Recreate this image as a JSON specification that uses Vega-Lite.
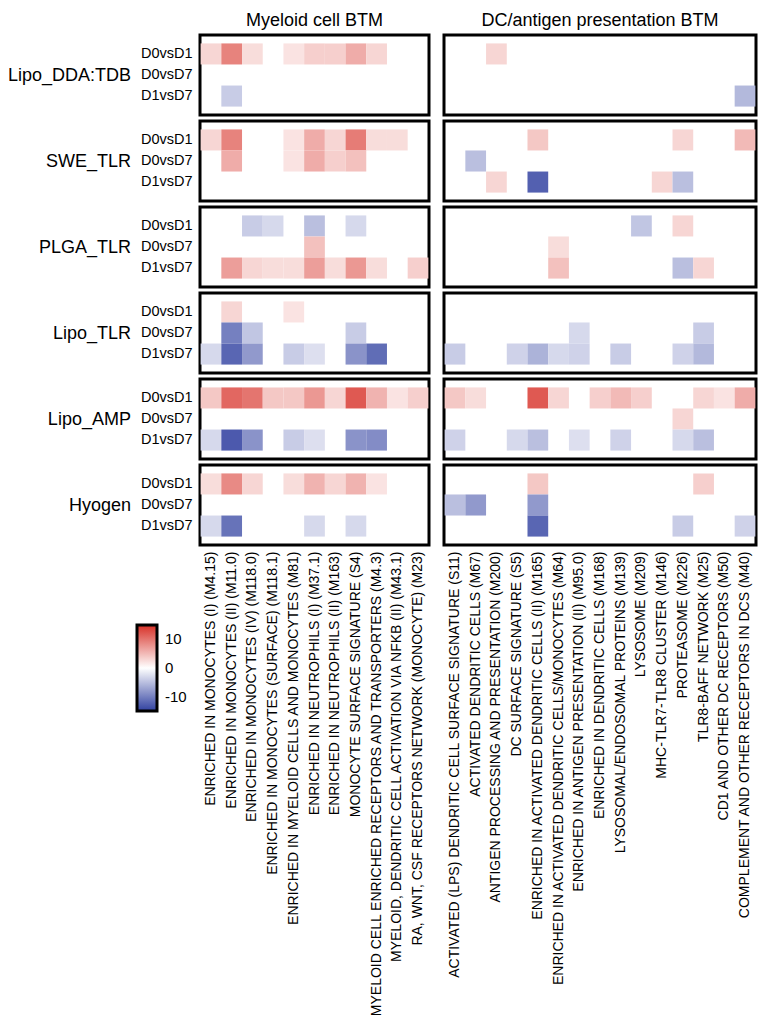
{
  "$schema": "https://vega.github.io/schema/vega-lite/v6.json",
  "background": "white",
  "padding": {"left": 5, "top": 10, "right": 5, "bottom": 5},
  "config": {
    "font": "Liberation Sans",
    "view": {"stroke": "black", "strokeWidth": 3},
    "title": {"font": "Liberation Sans", "fontSize": 18, "fontWeight": "normal", "color": "black", "anchor": "middle", "frame": "group", "offset": 5},
    "axis": {"ticks": false, "domain": false, "grid": false, "labelColor": "black", "labelFont": "Liberation Sans", "titleFont": "Liberation Sans", "titleColor": "black", "titleFontWeight": "normal", "labelLimit": 600},
    "axisX": {"labelAngle": -90, "labelFontSize": 14, "labelPadding": 6},
    "axisY": {"labelFontSize": 14.5, "labelPadding": 8, "titleAngle": 0, "titleAlign": "right", "titleBaseline": "middle", "titleFontSize": 18, "titlePadding": 10, "titleAnchor": "middle"},
    "scale": {"rectBandPaddingInner": 0, "bandPaddingInner": 0}
  },
  "datasets": {
    "myeloid": [
      {"g": "Lipo_DDA:TDB", "c": "D0vsD1", "m": "ENRICHED IN MONOCYTES (I) (M4.15)", "v": 3},
      {"g": "Lipo_DDA:TDB", "c": "D0vsD1", "m": "ENRICHED IN MONOCYTES (II) (M11.0)", "v": 9},
      {"g": "Lipo_DDA:TDB", "c": "D0vsD1", "m": "ENRICHED IN MONOCYTES (IV) (M118.0)", "v": 2.5},
      {"g": "Lipo_DDA:TDB", "c": "D0vsD1", "m": "ENRICHED IN MYELOID CELLS AND MONOCYTES (M81)", "v": 2},
      {"g": "Lipo_DDA:TDB", "c": "D0vsD1", "m": "ENRICHED IN NEUTROPHILS (I) (M37.1)", "v": 3.5},
      {"g": "Lipo_DDA:TDB", "c": "D0vsD1", "m": "ENRICHED IN NEUTROPHILS (II) (M163)", "v": 3.5},
      {"g": "Lipo_DDA:TDB", "c": "D0vsD1", "m": "MONOCYTE SURFACE SIGNATURE (S4)", "v": 6},
      {"g": "Lipo_DDA:TDB", "c": "D0vsD1", "m": "MYELOID CELL ENRICHED RECEPTORS AND TRANSPORTERS (M4.3)", "v": 3},
      {"g": "Lipo_DDA:TDB", "c": "D1vsD7", "m": "ENRICHED IN MONOCYTES (II) (M11.0)", "v": -4},
      {"g": "SWE_TLR", "c": "D0vsD1", "m": "ENRICHED IN MONOCYTES (I) (M4.15)", "v": 3},
      {"g": "SWE_TLR", "c": "D0vsD1", "m": "ENRICHED IN MONOCYTES (II) (M11.0)", "v": 9},
      {"g": "SWE_TLR", "c": "D0vsD1", "m": "ENRICHED IN MYELOID CELLS AND MONOCYTES (M81)", "v": 2},
      {"g": "SWE_TLR", "c": "D0vsD1", "m": "ENRICHED IN NEUTROPHILS (I) (M37.1)", "v": 6},
      {"g": "SWE_TLR", "c": "D0vsD1", "m": "ENRICHED IN NEUTROPHILS (II) (M163)", "v": 3},
      {"g": "SWE_TLR", "c": "D0vsD1", "m": "MONOCYTE SURFACE SIGNATURE (S4)", "v": 9.5},
      {"g": "SWE_TLR", "c": "D0vsD1", "m": "MYELOID CELL ENRICHED RECEPTORS AND TRANSPORTERS (M4.3)", "v": 2.5},
      {"g": "SWE_TLR", "c": "D0vsD1", "m": "MYELOID, DENDRITIC CELL ACTIVATION VIA NFKB (II) (M43.1)", "v": 2.5},
      {"g": "SWE_TLR", "c": "D0vsD7", "m": "ENRICHED IN MONOCYTES (II) (M11.0)", "v": 6},
      {"g": "SWE_TLR", "c": "D0vsD7", "m": "ENRICHED IN MYELOID CELLS AND MONOCYTES (M81)", "v": 2},
      {"g": "SWE_TLR", "c": "D0vsD7", "m": "ENRICHED IN NEUTROPHILS (I) (M37.1)", "v": 6},
      {"g": "SWE_TLR", "c": "D0vsD7", "m": "ENRICHED IN NEUTROPHILS (II) (M163)", "v": 3.5},
      {"g": "SWE_TLR", "c": "D0vsD7", "m": "MONOCYTE SURFACE SIGNATURE (S4)", "v": 4.5},
      {"g": "PLGA_TLR", "c": "D0vsD1", "m": "ENRICHED IN MONOCYTES (IV) (M118.0)", "v": -4},
      {"g": "PLGA_TLR", "c": "D0vsD1", "m": "ENRICHED IN MONOCYTES (SURFACE) (M118.1)", "v": -3},
      {"g": "PLGA_TLR", "c": "D0vsD1", "m": "ENRICHED IN NEUTROPHILS (I) (M37.1)", "v": -5},
      {"g": "PLGA_TLR", "c": "D0vsD1", "m": "MONOCYTE SURFACE SIGNATURE (S4)", "v": -3},
      {"g": "PLGA_TLR", "c": "D0vsD7", "m": "ENRICHED IN NEUTROPHILS (I) (M37.1)", "v": 4.5},
      {"g": "PLGA_TLR", "c": "D1vsD7", "m": "ENRICHED IN MONOCYTES (II) (M11.0)", "v": 7},
      {"g": "PLGA_TLR", "c": "D1vsD7", "m": "ENRICHED IN MONOCYTES (IV) (M118.0)", "v": 3},
      {"g": "PLGA_TLR", "c": "D1vsD7", "m": "ENRICHED IN MONOCYTES (SURFACE) (M118.1)", "v": 2.5},
      {"g": "PLGA_TLR", "c": "D1vsD7", "m": "ENRICHED IN MYELOID CELLS AND MONOCYTES (M81)", "v": 2.5},
      {"g": "PLGA_TLR", "c": "D1vsD7", "m": "ENRICHED IN NEUTROPHILS (I) (M37.1)", "v": 7},
      {"g": "PLGA_TLR", "c": "D1vsD7", "m": "ENRICHED IN NEUTROPHILS (II) (M163)", "v": 2.5},
      {"g": "PLGA_TLR", "c": "D1vsD7", "m": "MONOCYTE SURFACE SIGNATURE (S4)", "v": 7.5},
      {"g": "PLGA_TLR", "c": "D1vsD7", "m": "MYELOID CELL ENRICHED RECEPTORS AND TRANSPORTERS (M4.3)", "v": 2.5},
      {"g": "PLGA_TLR", "c": "D1vsD7", "m": "RA, WNT, CSF RECEPTORS NETWORK (MONOCYTE) (M23)", "v": 3.5},
      {"g": "Lipo_TLR", "c": "D0vsD1", "m": "ENRICHED IN MONOCYTES (II) (M11.0)", "v": 3},
      {"g": "Lipo_TLR", "c": "D0vsD1", "m": "ENRICHED IN MYELOID CELLS AND MONOCYTES (M81)", "v": 2},
      {"g": "Lipo_TLR", "c": "D0vsD7", "m": "ENRICHED IN MONOCYTES (II) (M11.0)", "v": -10},
      {"g": "Lipo_TLR", "c": "D0vsD7", "m": "ENRICHED IN MONOCYTES (IV) (M118.0)", "v": -4.5},
      {"g": "Lipo_TLR", "c": "D0vsD7", "m": "MONOCYTE SURFACE SIGNATURE (S4)", "v": -4},
      {"g": "Lipo_TLR", "c": "D1vsD7", "m": "ENRICHED IN MONOCYTES (I) (M4.15)", "v": -3},
      {"g": "Lipo_TLR", "c": "D1vsD7", "m": "ENRICHED IN MONOCYTES (II) (M11.0)", "v": -12},
      {"g": "Lipo_TLR", "c": "D1vsD7", "m": "ENRICHED IN MONOCYTES (IV) (M118.0)", "v": -8},
      {"g": "Lipo_TLR", "c": "D1vsD7", "m": "ENRICHED IN MYELOID CELLS AND MONOCYTES (M81)", "v": -4},
      {"g": "Lipo_TLR", "c": "D1vsD7", "m": "ENRICHED IN NEUTROPHILS (I) (M37.1)", "v": -2.5},
      {"g": "Lipo_TLR", "c": "D1vsD7", "m": "MONOCYTE SURFACE SIGNATURE (S4)", "v": -8.5},
      {"g": "Lipo_TLR", "c": "D1vsD7", "m": "MYELOID CELL ENRICHED RECEPTORS AND TRANSPORTERS (M4.3)", "v": -11.5},
      {"g": "Lipo_AMP", "c": "D0vsD1", "m": "ENRICHED IN MONOCYTES (I) (M4.15)", "v": 4},
      {"g": "Lipo_AMP", "c": "D0vsD1", "m": "ENRICHED IN MONOCYTES (II) (M11.0)", "v": 11},
      {"g": "Lipo_AMP", "c": "D0vsD1", "m": "ENRICHED IN MONOCYTES (IV) (M118.0)", "v": 10},
      {"g": "Lipo_AMP", "c": "D0vsD1", "m": "ENRICHED IN MONOCYTES (SURFACE) (M118.1)", "v": 4},
      {"g": "Lipo_AMP", "c": "D0vsD1", "m": "ENRICHED IN MYELOID CELLS AND MONOCYTES (M81)", "v": 4},
      {"g": "Lipo_AMP", "c": "D0vsD1", "m": "ENRICHED IN NEUTROPHILS (I) (M37.1)", "v": 7.5},
      {"g": "Lipo_AMP", "c": "D0vsD1", "m": "ENRICHED IN NEUTROPHILS (II) (M163)", "v": 3},
      {"g": "Lipo_AMP", "c": "D0vsD1", "m": "MONOCYTE SURFACE SIGNATURE (S4)", "v": 12},
      {"g": "Lipo_AMP", "c": "D0vsD1", "m": "MYELOID CELL ENRICHED RECEPTORS AND TRANSPORTERS (M4.3)", "v": 5.5},
      {"g": "Lipo_AMP", "c": "D0vsD1", "m": "MYELOID, DENDRITIC CELL ACTIVATION VIA NFKB (II) (M43.1)", "v": 2},
      {"g": "Lipo_AMP", "c": "D0vsD1", "m": "RA, WNT, CSF RECEPTORS NETWORK (MONOCYTE) (M23)", "v": 3.5},
      {"g": "Lipo_AMP", "c": "D1vsD7", "m": "ENRICHED IN MONOCYTES (I) (M4.15)", "v": -3},
      {"g": "Lipo_AMP", "c": "D1vsD7", "m": "ENRICHED IN MONOCYTES (II) (M11.0)", "v": -13},
      {"g": "Lipo_AMP", "c": "D1vsD7", "m": "ENRICHED IN MONOCYTES (IV) (M118.0)", "v": -8.5},
      {"g": "Lipo_AMP", "c": "D1vsD7", "m": "ENRICHED IN MYELOID CELLS AND MONOCYTES (M81)", "v": -4},
      {"g": "Lipo_AMP", "c": "D1vsD7", "m": "ENRICHED IN NEUTROPHILS (I) (M37.1)", "v": -2.5},
      {"g": "Lipo_AMP", "c": "D1vsD7", "m": "MONOCYTE SURFACE SIGNATURE (S4)", "v": -8.5},
      {"g": "Lipo_AMP", "c": "D1vsD7", "m": "MYELOID CELL ENRICHED RECEPTORS AND TRANSPORTERS (M4.3)", "v": -9},
      {"g": "Hyogen", "c": "D0vsD1", "m": "ENRICHED IN MONOCYTES (I) (M4.15)", "v": 2.5},
      {"g": "Hyogen", "c": "D0vsD1", "m": "ENRICHED IN MONOCYTES (II) (M11.0)", "v": 8.5},
      {"g": "Hyogen", "c": "D0vsD1", "m": "ENRICHED IN MONOCYTES (IV) (M118.0)", "v": 3},
      {"g": "Hyogen", "c": "D0vsD1", "m": "ENRICHED IN MYELOID CELLS AND MONOCYTES (M81)", "v": 2.5},
      {"g": "Hyogen", "c": "D0vsD1", "m": "ENRICHED IN NEUTROPHILS (I) (M37.1)", "v": 5.5},
      {"g": "Hyogen", "c": "D0vsD1", "m": "ENRICHED IN NEUTROPHILS (II) (M163)", "v": 3},
      {"g": "Hyogen", "c": "D0vsD1", "m": "MONOCYTE SURFACE SIGNATURE (S4)", "v": 5.5},
      {"g": "Hyogen", "c": "D0vsD1", "m": "MYELOID CELL ENRICHED RECEPTORS AND TRANSPORTERS (M4.3)", "v": 2},
      {"g": "Hyogen", "c": "D1vsD7", "m": "ENRICHED IN MONOCYTES (I) (M4.15)", "v": -3},
      {"g": "Hyogen", "c": "D1vsD7", "m": "ENRICHED IN MONOCYTES (II) (M11.0)", "v": -11},
      {"g": "Hyogen", "c": "D1vsD7", "m": "ENRICHED IN NEUTROPHILS (I) (M37.1)", "v": -3},
      {"g": "Hyogen", "c": "D1vsD7", "m": "MONOCYTE SURFACE SIGNATURE (S4)", "v": -3}
    ],
    "dc": [
      {"g": "Lipo_DDA:TDB", "c": "D0vsD1", "m": "ANTIGEN PROCESSING AND PRESENTATION (M200)", "v": 3},
      {"g": "Lipo_DDA:TDB", "c": "D1vsD7", "m": "COMPLEMENT AND OTHER RECEPTORS IN DCS (M40)", "v": -5.5},
      {"g": "SWE_TLR", "c": "D0vsD1", "m": "ENRICHED IN ACTIVATED DENDRITIC CELLS (II) (M165)", "v": 4},
      {"g": "SWE_TLR", "c": "D0vsD1", "m": "PROTEASOME (M226)", "v": 3},
      {"g": "SWE_TLR", "c": "D0vsD1", "m": "COMPLEMENT AND OTHER RECEPTORS IN DCS (M40)", "v": 5},
      {"g": "SWE_TLR", "c": "D0vsD7", "m": "ACTIVATED DENDRITIC CELLS (M67)", "v": -5},
      {"g": "SWE_TLR", "c": "D1vsD7", "m": "ANTIGEN PROCESSING AND PRESENTATION (M200)", "v": 3},
      {"g": "SWE_TLR", "c": "D1vsD7", "m": "ENRICHED IN ACTIVATED DENDRITIC CELLS (II) (M165)", "v": -12.5},
      {"g": "SWE_TLR", "c": "D1vsD7", "m": "MHC-TLR7-TLR8 CLUSTER (M146)", "v": 3},
      {"g": "SWE_TLR", "c": "D1vsD7", "m": "PROTEASOME (M226)", "v": -5},
      {"g": "PLGA_TLR", "c": "D0vsD1", "m": "LYSOSOME (M209)", "v": -4.5},
      {"g": "PLGA_TLR", "c": "D0vsD1", "m": "PROTEASOME (M226)", "v": 3},
      {"g": "PLGA_TLR", "c": "D0vsD7", "m": "ENRICHED IN ACTIVATED DENDRITIC CELLS/MONOCYTES (M64)", "v": 2.5},
      {"g": "PLGA_TLR", "c": "D1vsD7", "m": "ENRICHED IN ACTIVATED DENDRITIC CELLS/MONOCYTES (M64)", "v": 4.5},
      {"g": "PLGA_TLR", "c": "D1vsD7", "m": "PROTEASOME (M226)", "v": -5},
      {"g": "PLGA_TLR", "c": "D1vsD7", "m": "TLR8-BAFF NETWORK (M25)", "v": 3},
      {"g": "Lipo_TLR", "c": "D0vsD7", "m": "ENRICHED IN ANTIGEN PRESENTATION (II) (M95.0)", "v": -3},
      {"g": "Lipo_TLR", "c": "D0vsD7", "m": "TLR8-BAFF NETWORK (M25)", "v": -4},
      {"g": "Lipo_TLR", "c": "D1vsD7", "m": "ACTIVATED (LPS) DENDRITIC CELL SURFACE SIGNATURE (S11)", "v": -4},
      {"g": "Lipo_TLR", "c": "D1vsD7", "m": "DC SURFACE SIGNATURE (S5)", "v": -3.5},
      {"g": "Lipo_TLR", "c": "D1vsD7", "m": "ENRICHED IN ACTIVATED DENDRITIC CELLS (II) (M165)", "v": -6},
      {"g": "Lipo_TLR", "c": "D1vsD7", "m": "ENRICHED IN ACTIVATED DENDRITIC CELLS/MONOCYTES (M64)", "v": -3},
      {"g": "Lipo_TLR", "c": "D1vsD7", "m": "ENRICHED IN ANTIGEN PRESENTATION (II) (M95.0)", "v": -3.5},
      {"g": "Lipo_TLR", "c": "D1vsD7", "m": "LYSOSOMAL/ENDOSOMAL PROTEINS (M139)", "v": -4},
      {"g": "Lipo_TLR", "c": "D1vsD7", "m": "PROTEASOME (M226)", "v": -3.5},
      {"g": "Lipo_TLR", "c": "D1vsD7", "m": "TLR8-BAFF NETWORK (M25)", "v": -5.5},
      {"g": "Lipo_AMP", "c": "D0vsD1", "m": "ACTIVATED (LPS) DENDRITIC CELL SURFACE SIGNATURE (S11)", "v": 4},
      {"g": "Lipo_AMP", "c": "D0vsD1", "m": "ACTIVATED DENDRITIC CELLS (M67)", "v": 2.5},
      {"g": "Lipo_AMP", "c": "D0vsD1", "m": "ENRICHED IN ACTIVATED DENDRITIC CELLS (II) (M165)", "v": 12},
      {"g": "Lipo_AMP", "c": "D0vsD1", "m": "ENRICHED IN ACTIVATED DENDRITIC CELLS/MONOCYTES (M64)", "v": 3},
      {"g": "Lipo_AMP", "c": "D0vsD1", "m": "ENRICHED IN DENDRITIC CELLS (M168)", "v": 3.5},
      {"g": "Lipo_AMP", "c": "D0vsD1", "m": "LYSOSOMAL/ENDOSOMAL PROTEINS (M139)", "v": 5},
      {"g": "Lipo_AMP", "c": "D0vsD1", "m": "LYSOSOME (M209)", "v": 3.5},
      {"g": "Lipo_AMP", "c": "D0vsD1", "m": "TLR8-BAFF NETWORK (M25)", "v": 3},
      {"g": "Lipo_AMP", "c": "D0vsD1", "m": "CD1 AND OTHER DC RECEPTORS (M50)", "v": 2},
      {"g": "Lipo_AMP", "c": "D0vsD1", "m": "COMPLEMENT AND OTHER RECEPTORS IN DCS (M40)", "v": 6},
      {"g": "Lipo_AMP", "c": "D0vsD7", "m": "PROTEASOME (M226)", "v": 3},
      {"g": "Lipo_AMP", "c": "D1vsD7", "m": "ACTIVATED (LPS) DENDRITIC CELL SURFACE SIGNATURE (S11)", "v": -3.5},
      {"g": "Lipo_AMP", "c": "D1vsD7", "m": "DC SURFACE SIGNATURE (S5)", "v": -3},
      {"g": "Lipo_AMP", "c": "D1vsD7", "m": "ENRICHED IN ACTIVATED DENDRITIC CELLS (II) (M165)", "v": -5},
      {"g": "Lipo_AMP", "c": "D1vsD7", "m": "ENRICHED IN ANTIGEN PRESENTATION (II) (M95.0)", "v": -2.5},
      {"g": "Lipo_AMP", "c": "D1vsD7", "m": "LYSOSOMAL/ENDOSOMAL PROTEINS (M139)", "v": -3.5},
      {"g": "Lipo_AMP", "c": "D1vsD7", "m": "PROTEASOME (M226)", "v": -3},
      {"g": "Lipo_AMP", "c": "D1vsD7", "m": "TLR8-BAFF NETWORK (M25)", "v": -5},
      {"g": "Hyogen", "c": "D0vsD1", "m": "ENRICHED IN ACTIVATED DENDRITIC CELLS (II) (M165)", "v": 4},
      {"g": "Hyogen", "c": "D0vsD1", "m": "TLR8-BAFF NETWORK (M25)", "v": 3.5},
      {"g": "Hyogen", "c": "D0vsD7", "m": "ACTIVATED (LPS) DENDRITIC CELL SURFACE SIGNATURE (S11)", "v": -5},
      {"g": "Hyogen", "c": "D0vsD7", "m": "ACTIVATED DENDRITIC CELLS (M67)", "v": -8},
      {"g": "Hyogen", "c": "D0vsD7", "m": "ENRICHED IN ACTIVATED DENDRITIC CELLS (II) (M165)", "v": -8},
      {"g": "Hyogen", "c": "D1vsD7", "m": "ENRICHED IN ACTIVATED DENDRITIC CELLS (II) (M165)", "v": -12},
      {"g": "Hyogen", "c": "D1vsD7", "m": "PROTEASOME (M226)", "v": -4},
      {"g": "Hyogen", "c": "D1vsD7", "m": "COMPLEMENT AND OTHER RECEPTORS IN DCS (M40)", "v": -3.5}
    ]
  },
  "spacing": 11,
  "resolve": {"scale": {"color": "independent"}, "legend": {"color": "independent"}},
  "hconcat": [
    {
      "spacing": 2,
      "resolve": {"scale": {"color": "independent"}, "legend": {"color": "independent"}},
      "vconcat": [
        {
          "title": "Myeloid cell BTM",
          "width": 229, "height": 80,
          "data": {"name": "myeloid"},
          "transform": [{"filter": "datum.g === 'Lipo_DDA:TDB'"}],
          "mark": "rect",
          "encoding": {
            "x": {"field": "m", "type": "nominal", "scale": {"domain": ["ENRICHED IN MONOCYTES (I) (M4.15)", "ENRICHED IN MONOCYTES (II) (M11.0)", "ENRICHED IN MONOCYTES (IV) (M118.0)", "ENRICHED IN MONOCYTES (SURFACE) (M118.1)", "ENRICHED IN MYELOID CELLS AND MONOCYTES (M81)", "ENRICHED IN NEUTROPHILS (I) (M37.1)", "ENRICHED IN NEUTROPHILS (II) (M163)", "MONOCYTE SURFACE SIGNATURE (S4)", "MYELOID CELL ENRICHED RECEPTORS AND TRANSPORTERS (M4.3)", "MYELOID, DENDRITIC CELL ACTIVATION VIA NFKB (II) (M43.1)", "RA, WNT, CSF RECEPTORS NETWORK (MONOCYTE) (M23)"], "paddingOuter": 0.03}, "axis": null},
            "y": {"field": "c", "type": "nominal", "scale": {"domain": ["D0vsD1", "D0vsD7", "D1vsD7"], "paddingOuter": 0.4}, "axis": {"title": "Lipo_DDA:TDB"}},
            "color": {"field": "v", "type": "quantitative", "scale": {"domain": [-15, 0, 15], "range": ["#3040a0", "#ffffff", "#d73027"], "interpolate": "rgb"}, "legend": null}
          }
        },
        {
          "width": 229, "height": 80,
          "data": {"name": "myeloid"},
          "transform": [{"filter": "datum.g === 'SWE_TLR'"}],
          "mark": "rect",
          "encoding": {
            "x": {"field": "m", "type": "nominal", "scale": {"domain": ["ENRICHED IN MONOCYTES (I) (M4.15)", "ENRICHED IN MONOCYTES (II) (M11.0)", "ENRICHED IN MONOCYTES (IV) (M118.0)", "ENRICHED IN MONOCYTES (SURFACE) (M118.1)", "ENRICHED IN MYELOID CELLS AND MONOCYTES (M81)", "ENRICHED IN NEUTROPHILS (I) (M37.1)", "ENRICHED IN NEUTROPHILS (II) (M163)", "MONOCYTE SURFACE SIGNATURE (S4)", "MYELOID CELL ENRICHED RECEPTORS AND TRANSPORTERS (M4.3)", "MYELOID, DENDRITIC CELL ACTIVATION VIA NFKB (II) (M43.1)", "RA, WNT, CSF RECEPTORS NETWORK (MONOCYTE) (M23)"], "paddingOuter": 0.03}, "axis": null},
            "y": {"field": "c", "type": "nominal", "scale": {"domain": ["D0vsD1", "D0vsD7", "D1vsD7"], "paddingOuter": 0.4}, "axis": {"title": "SWE_TLR"}},
            "color": {"field": "v", "type": "quantitative", "scale": {"domain": [-15, 0, 15], "range": ["#3040a0", "#ffffff", "#d73027"], "interpolate": "rgb"}, "legend": null}
          }
        },
        {
          "width": 229, "height": 80,
          "data": {"name": "myeloid"},
          "transform": [{"filter": "datum.g === 'PLGA_TLR'"}],
          "mark": "rect",
          "encoding": {
            "x": {"field": "m", "type": "nominal", "scale": {"domain": ["ENRICHED IN MONOCYTES (I) (M4.15)", "ENRICHED IN MONOCYTES (II) (M11.0)", "ENRICHED IN MONOCYTES (IV) (M118.0)", "ENRICHED IN MONOCYTES (SURFACE) (M118.1)", "ENRICHED IN MYELOID CELLS AND MONOCYTES (M81)", "ENRICHED IN NEUTROPHILS (I) (M37.1)", "ENRICHED IN NEUTROPHILS (II) (M163)", "MONOCYTE SURFACE SIGNATURE (S4)", "MYELOID CELL ENRICHED RECEPTORS AND TRANSPORTERS (M4.3)", "MYELOID, DENDRITIC CELL ACTIVATION VIA NFKB (II) (M43.1)", "RA, WNT, CSF RECEPTORS NETWORK (MONOCYTE) (M23)"], "paddingOuter": 0.03}, "axis": null},
            "y": {"field": "c", "type": "nominal", "scale": {"domain": ["D0vsD1", "D0vsD7", "D1vsD7"], "paddingOuter": 0.4}, "axis": {"title": "PLGA_TLR"}},
            "color": {"field": "v", "type": "quantitative", "scale": {"domain": [-15, 0, 15], "range": ["#3040a0", "#ffffff", "#d73027"], "interpolate": "rgb"}, "legend": null}
          }
        },
        {
          "width": 229, "height": 80,
          "data": {"name": "myeloid"},
          "transform": [{"filter": "datum.g === 'Lipo_TLR'"}],
          "mark": "rect",
          "encoding": {
            "x": {"field": "m", "type": "nominal", "scale": {"domain": ["ENRICHED IN MONOCYTES (I) (M4.15)", "ENRICHED IN MONOCYTES (II) (M11.0)", "ENRICHED IN MONOCYTES (IV) (M118.0)", "ENRICHED IN MONOCYTES (SURFACE) (M118.1)", "ENRICHED IN MYELOID CELLS AND MONOCYTES (M81)", "ENRICHED IN NEUTROPHILS (I) (M37.1)", "ENRICHED IN NEUTROPHILS (II) (M163)", "MONOCYTE SURFACE SIGNATURE (S4)", "MYELOID CELL ENRICHED RECEPTORS AND TRANSPORTERS (M4.3)", "MYELOID, DENDRITIC CELL ACTIVATION VIA NFKB (II) (M43.1)", "RA, WNT, CSF RECEPTORS NETWORK (MONOCYTE) (M23)"], "paddingOuter": 0.03}, "axis": null},
            "y": {"field": "c", "type": "nominal", "scale": {"domain": ["D0vsD1", "D0vsD7", "D1vsD7"], "paddingOuter": 0.4}, "axis": {"title": "Lipo_TLR"}},
            "color": {"field": "v", "type": "quantitative", "scale": {"domain": [-15, 0, 15], "range": ["#3040a0", "#ffffff", "#d73027"], "interpolate": "rgb"}, "legend": null}
          }
        },
        {
          "width": 229, "height": 80,
          "data": {"name": "myeloid"},
          "transform": [{"filter": "datum.g === 'Lipo_AMP'"}],
          "mark": "rect",
          "encoding": {
            "x": {"field": "m", "type": "nominal", "scale": {"domain": ["ENRICHED IN MONOCYTES (I) (M4.15)", "ENRICHED IN MONOCYTES (II) (M11.0)", "ENRICHED IN MONOCYTES (IV) (M118.0)", "ENRICHED IN MONOCYTES (SURFACE) (M118.1)", "ENRICHED IN MYELOID CELLS AND MONOCYTES (M81)", "ENRICHED IN NEUTROPHILS (I) (M37.1)", "ENRICHED IN NEUTROPHILS (II) (M163)", "MONOCYTE SURFACE SIGNATURE (S4)", "MYELOID CELL ENRICHED RECEPTORS AND TRANSPORTERS (M4.3)", "MYELOID, DENDRITIC CELL ACTIVATION VIA NFKB (II) (M43.1)", "RA, WNT, CSF RECEPTORS NETWORK (MONOCYTE) (M23)"], "paddingOuter": 0.03}, "axis": null},
            "y": {"field": "c", "type": "nominal", "scale": {"domain": ["D0vsD1", "D0vsD7", "D1vsD7"], "paddingOuter": 0.4}, "axis": {"title": "Lipo_AMP"}},
            "color": {"field": "v", "type": "quantitative", "scale": {"domain": [-15, 0, 15], "range": ["#3040a0", "#ffffff", "#d73027"], "interpolate": "rgb"}, "legend": null}
          }
        },
        {
          "width": 229, "height": 80,
          "data": {"name": "myeloid"},
          "transform": [{"filter": "datum.g === 'Hyogen'"}],
          "mark": "rect",
          "encoding": {
            "x": {"field": "m", "type": "nominal", "scale": {"domain": ["ENRICHED IN MONOCYTES (I) (M4.15)", "ENRICHED IN MONOCYTES (II) (M11.0)", "ENRICHED IN MONOCYTES (IV) (M118.0)", "ENRICHED IN MONOCYTES (SURFACE) (M118.1)", "ENRICHED IN MYELOID CELLS AND MONOCYTES (M81)", "ENRICHED IN NEUTROPHILS (I) (M37.1)", "ENRICHED IN NEUTROPHILS (II) (M163)", "MONOCYTE SURFACE SIGNATURE (S4)", "MYELOID CELL ENRICHED RECEPTORS AND TRANSPORTERS (M4.3)", "MYELOID, DENDRITIC CELL ACTIVATION VIA NFKB (II) (M43.1)", "RA, WNT, CSF RECEPTORS NETWORK (MONOCYTE) (M23)"], "paddingOuter": 0.03}, "axis": {"title": null}},
            "y": {"field": "c", "type": "nominal", "scale": {"domain": ["D0vsD1", "D0vsD7", "D1vsD7"], "paddingOuter": 0.4}, "axis": {"title": "Hyogen"}},
            "color": {
              "field": "v", "type": "quantitative",
              "scale": {"domain": [-15, 0, 15], "range": ["#3040a0", "#ffffff", "#d73027"], "interpolate": "rgb"},
              "legend": {
                "orient": "none", "legendX": -63, "legendY": 160, "direction": "vertical", "title": null,
                "gradientLength": 86, "gradientThickness": 20, "gradientStrokeColor": "black", "gradientStrokeWidth": 3,
                "values": [10, 0, -10], "labelExpr": "datum.value + ''", "labelFontSize": 15, "labelOffset": 8, "labelColor": "black", "labelFont": "Liberation Sans"
              }
            }
          }
        }
      ]
    },
    {
      "spacing": 2,
      "resolve": {"scale": {"color": "independent"}, "legend": {"color": "independent"}},
      "vconcat": [
        {
          "title": "DC/antigen presentation BTM",
          "width": 312, "height": 80,
          "data": {"name": "dc"},
          "transform": [{"filter": "datum.g === 'Lipo_DDA:TDB'"}],
          "mark": "rect",
          "encoding": {
            "x": {"field": "m", "type": "nominal", "scale": {"domain": ["ACTIVATED (LPS) DENDRITIC CELL SURFACE SIGNATURE (S11)", "ACTIVATED DENDRITIC CELLS (M67)", "ANTIGEN PROCESSING AND PRESENTATION (M200)", "DC SURFACE SIGNATURE (S5)", "ENRICHED IN ACTIVATED DENDRITIC CELLS (II) (M165)", "ENRICHED IN ACTIVATED DENDRITIC CELLS/MONOCYTES (M64)", "ENRICHED IN ANTIGEN PRESENTATION (II) (M95.0)", "ENRICHED IN DENDRITIC CELLS (M168)", "LYSOSOMAL/ENDOSOMAL PROTEINS (M139)", "LYSOSOME (M209)", "MHC-TLR7-TLR8 CLUSTER (M146)", "PROTEASOME (M226)", "TLR8-BAFF NETWORK (M25)", "CD1 AND OTHER DC RECEPTORS (M50)", "COMPLEMENT AND OTHER RECEPTORS IN DCS (M40)"], "paddingOuter": 0.03}, "axis": null},
            "y": {"field": "c", "type": "nominal", "scale": {"domain": ["D0vsD1", "D0vsD7", "D1vsD7"], "paddingOuter": 0.4}, "axis": null},
            "color": {"field": "v", "type": "quantitative", "scale": {"domain": [-15, 0, 15], "range": ["#3040a0", "#ffffff", "#d73027"], "interpolate": "rgb"}, "legend": null}
          }
        },
        {
          "width": 312, "height": 80,
          "data": {"name": "dc"},
          "transform": [{"filter": "datum.g === 'SWE_TLR'"}],
          "mark": "rect",
          "encoding": {
            "x": {"field": "m", "type": "nominal", "scale": {"domain": ["ACTIVATED (LPS) DENDRITIC CELL SURFACE SIGNATURE (S11)", "ACTIVATED DENDRITIC CELLS (M67)", "ANTIGEN PROCESSING AND PRESENTATION (M200)", "DC SURFACE SIGNATURE (S5)", "ENRICHED IN ACTIVATED DENDRITIC CELLS (II) (M165)", "ENRICHED IN ACTIVATED DENDRITIC CELLS/MONOCYTES (M64)", "ENRICHED IN ANTIGEN PRESENTATION (II) (M95.0)", "ENRICHED IN DENDRITIC CELLS (M168)", "LYSOSOMAL/ENDOSOMAL PROTEINS (M139)", "LYSOSOME (M209)", "MHC-TLR7-TLR8 CLUSTER (M146)", "PROTEASOME (M226)", "TLR8-BAFF NETWORK (M25)", "CD1 AND OTHER DC RECEPTORS (M50)", "COMPLEMENT AND OTHER RECEPTORS IN DCS (M40)"], "paddingOuter": 0.03}, "axis": null},
            "y": {"field": "c", "type": "nominal", "scale": {"domain": ["D0vsD1", "D0vsD7", "D1vsD7"], "paddingOuter": 0.4}, "axis": null},
            "color": {"field": "v", "type": "quantitative", "scale": {"domain": [-15, 0, 15], "range": ["#3040a0", "#ffffff", "#d73027"], "interpolate": "rgb"}, "legend": null}
          }
        },
        {
          "width": 312, "height": 80,
          "data": {"name": "dc"},
          "transform": [{"filter": "datum.g === 'PLGA_TLR'"}],
          "mark": "rect",
          "encoding": {
            "x": {"field": "m", "type": "nominal", "scale": {"domain": ["ACTIVATED (LPS) DENDRITIC CELL SURFACE SIGNATURE (S11)", "ACTIVATED DENDRITIC CELLS (M67)", "ANTIGEN PROCESSING AND PRESENTATION (M200)", "DC SURFACE SIGNATURE (S5)", "ENRICHED IN ACTIVATED DENDRITIC CELLS (II) (M165)", "ENRICHED IN ACTIVATED DENDRITIC CELLS/MONOCYTES (M64)", "ENRICHED IN ANTIGEN PRESENTATION (II) (M95.0)", "ENRICHED IN DENDRITIC CELLS (M168)", "LYSOSOMAL/ENDOSOMAL PROTEINS (M139)", "LYSOSOME (M209)", "MHC-TLR7-TLR8 CLUSTER (M146)", "PROTEASOME (M226)", "TLR8-BAFF NETWORK (M25)", "CD1 AND OTHER DC RECEPTORS (M50)", "COMPLEMENT AND OTHER RECEPTORS IN DCS (M40)"], "paddingOuter": 0.03}, "axis": null},
            "y": {"field": "c", "type": "nominal", "scale": {"domain": ["D0vsD1", "D0vsD7", "D1vsD7"], "paddingOuter": 0.4}, "axis": null},
            "color": {"field": "v", "type": "quantitative", "scale": {"domain": [-15, 0, 15], "range": ["#3040a0", "#ffffff", "#d73027"], "interpolate": "rgb"}, "legend": null}
          }
        },
        {
          "width": 312, "height": 80,
          "data": {"name": "dc"},
          "transform": [{"filter": "datum.g === 'Lipo_TLR'"}],
          "mark": "rect",
          "encoding": {
            "x": {"field": "m", "type": "nominal", "scale": {"domain": ["ACTIVATED (LPS) DENDRITIC CELL SURFACE SIGNATURE (S11)", "ACTIVATED DENDRITIC CELLS (M67)", "ANTIGEN PROCESSING AND PRESENTATION (M200)", "DC SURFACE SIGNATURE (S5)", "ENRICHED IN ACTIVATED DENDRITIC CELLS (II) (M165)", "ENRICHED IN ACTIVATED DENDRITIC CELLS/MONOCYTES (M64)", "ENRICHED IN ANTIGEN PRESENTATION (II) (M95.0)", "ENRICHED IN DENDRITIC CELLS (M168)", "LYSOSOMAL/ENDOSOMAL PROTEINS (M139)", "LYSOSOME (M209)", "MHC-TLR7-TLR8 CLUSTER (M146)", "PROTEASOME (M226)", "TLR8-BAFF NETWORK (M25)", "CD1 AND OTHER DC RECEPTORS (M50)", "COMPLEMENT AND OTHER RECEPTORS IN DCS (M40)"], "paddingOuter": 0.03}, "axis": null},
            "y": {"field": "c", "type": "nominal", "scale": {"domain": ["D0vsD1", "D0vsD7", "D1vsD7"], "paddingOuter": 0.4}, "axis": null},
            "color": {"field": "v", "type": "quantitative", "scale": {"domain": [-15, 0, 15], "range": ["#3040a0", "#ffffff", "#d73027"], "interpolate": "rgb"}, "legend": null}
          }
        },
        {
          "width": 312, "height": 80,
          "data": {"name": "dc"},
          "transform": [{"filter": "datum.g === 'Lipo_AMP'"}],
          "mark": "rect",
          "encoding": {
            "x": {"field": "m", "type": "nominal", "scale": {"domain": ["ACTIVATED (LPS) DENDRITIC CELL SURFACE SIGNATURE (S11)", "ACTIVATED DENDRITIC CELLS (M67)", "ANTIGEN PROCESSING AND PRESENTATION (M200)", "DC SURFACE SIGNATURE (S5)", "ENRICHED IN ACTIVATED DENDRITIC CELLS (II) (M165)", "ENRICHED IN ACTIVATED DENDRITIC CELLS/MONOCYTES (M64)", "ENRICHED IN ANTIGEN PRESENTATION (II) (M95.0)", "ENRICHED IN DENDRITIC CELLS (M168)", "LYSOSOMAL/ENDOSOMAL PROTEINS (M139)", "LYSOSOME (M209)", "MHC-TLR7-TLR8 CLUSTER (M146)", "PROTEASOME (M226)", "TLR8-BAFF NETWORK (M25)", "CD1 AND OTHER DC RECEPTORS (M50)", "COMPLEMENT AND OTHER RECEPTORS IN DCS (M40)"], "paddingOuter": 0.03}, "axis": null},
            "y": {"field": "c", "type": "nominal", "scale": {"domain": ["D0vsD1", "D0vsD7", "D1vsD7"], "paddingOuter": 0.4}, "axis": null},
            "color": {"field": "v", "type": "quantitative", "scale": {"domain": [-15, 0, 15], "range": ["#3040a0", "#ffffff", "#d73027"], "interpolate": "rgb"}, "legend": null}
          }
        },
        {
          "width": 312, "height": 80,
          "data": {"name": "dc"},
          "transform": [{"filter": "datum.g === 'Hyogen'"}],
          "mark": "rect",
          "encoding": {
            "x": {"field": "m", "type": "nominal", "scale": {"domain": ["ACTIVATED (LPS) DENDRITIC CELL SURFACE SIGNATURE (S11)", "ACTIVATED DENDRITIC CELLS (M67)", "ANTIGEN PROCESSING AND PRESENTATION (M200)", "DC SURFACE SIGNATURE (S5)", "ENRICHED IN ACTIVATED DENDRITIC CELLS (II) (M165)", "ENRICHED IN ACTIVATED DENDRITIC CELLS/MONOCYTES (M64)", "ENRICHED IN ANTIGEN PRESENTATION (II) (M95.0)", "ENRICHED IN DENDRITIC CELLS (M168)", "LYSOSOMAL/ENDOSOMAL PROTEINS (M139)", "LYSOSOME (M209)", "MHC-TLR7-TLR8 CLUSTER (M146)", "PROTEASOME (M226)", "TLR8-BAFF NETWORK (M25)", "CD1 AND OTHER DC RECEPTORS (M50)", "COMPLEMENT AND OTHER RECEPTORS IN DCS (M40)"], "paddingOuter": 0.03}, "axis": {"title": null}},
            "y": {"field": "c", "type": "nominal", "scale": {"domain": ["D0vsD1", "D0vsD7", "D1vsD7"], "paddingOuter": 0.4}, "axis": null},
            "color": {"field": "v", "type": "quantitative", "scale": {"domain": [-15, 0, 15], "range": ["#3040a0", "#ffffff", "#d73027"], "interpolate": "rgb"}, "legend": null}
          }
        }
      ]
    }
  ]
}
